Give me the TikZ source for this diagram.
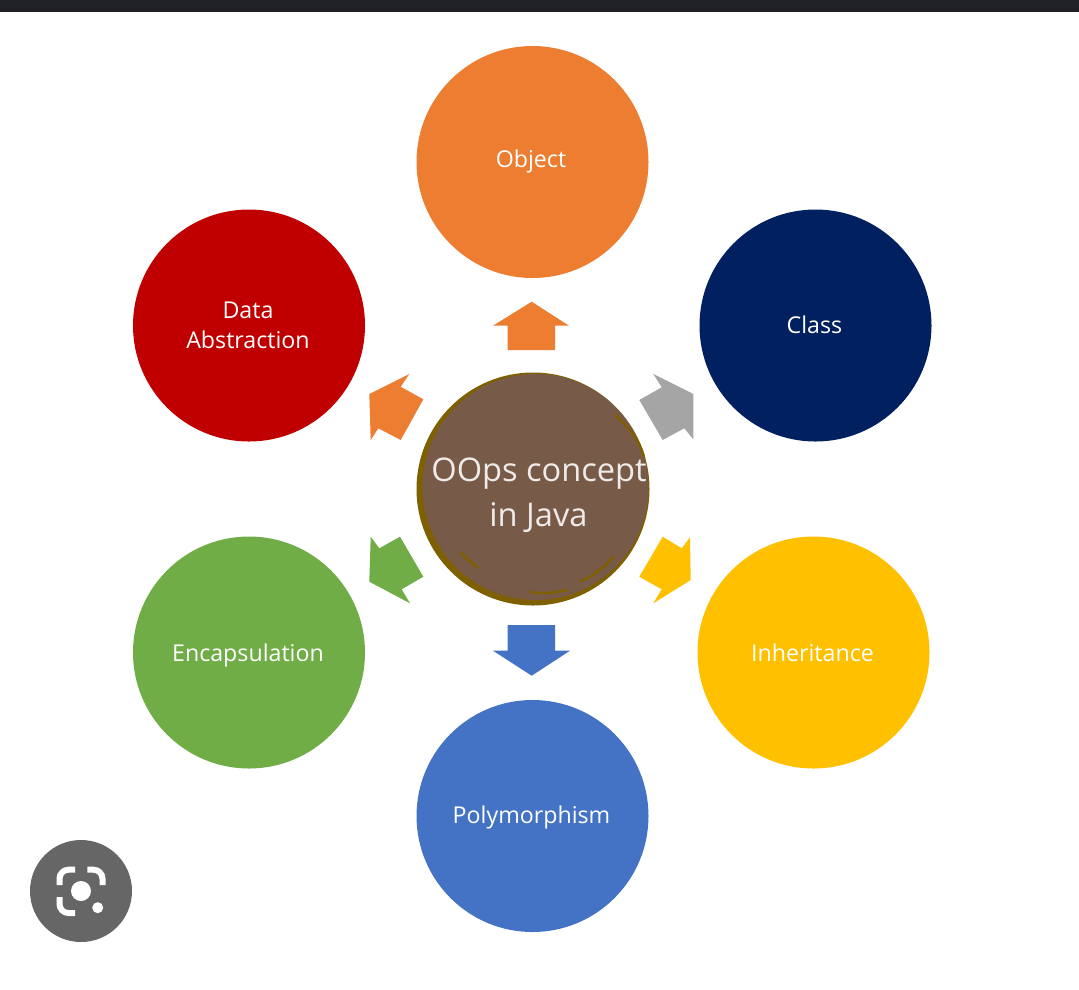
\documentclass[tikz,border=0pt]{standalone}
\usepackage{fontspec}
\setmainfont{Open Sans}
\definecolor{cobj}{HTML}{ED7D31}
\definecolor{ccls}{HTML}{002060}
\definecolor{cinh}{HTML}{FFC000}
\definecolor{cpol}{HTML}{4472C4}
\definecolor{cenc}{HTML}{70AD47}
\definecolor{cdat}{HTML}{C00000}
\definecolor{cgry}{HTML}{A5A5A5}
\definecolor{cbrn}{HTML}{785A48}
\definecolor{cgld}{HTML}{7F6000}
\definecolor{cbar}{HTML}{202124}
\definecolor{cicn}{HTML}{666666}
\tikzset{
  bubble/.style={circle,inner sep=0pt,minimum size=232pt,fill=#1},
  lbl/.style={anchor=base,text=white,font=\fontsize{23.2}{23.2}\selectfont,inner sep=0pt},
  biglbl/.style={anchor=base,text=white!88!cbrn,font=\fontsize{32.6}{32.6}\selectfont,inner sep=0pt},
  iconstroke/.style={draw=white,line width=6pt,line cap=butt,rounded corners=9pt},
  scribble/.style={draw=cgld,line width=2.5pt,line cap=round}
}
\begin{document}
\begin{tikzpicture}[x=1pt,y=-1pt]
\useasboundingbox (0,0) rectangle (1079,989);
\fill[white] (0,0) rectangle (1079,989);
\fill[cbar] (0,0) rectangle (1079,12);

% outer circles
\node[bubble=cobj] (object) at (532.5,162) {};
\node[bubble=ccls] (class) at (815.5,325.5) {};
\node[bubble=cinh] (inheritance) at (813.5,652.5) {};
\node[bubble=cpol] (poly) at (532.5,816) {};
\node[bubble=cenc] (encap) at (249,652.5) {};
\node[bubble=cdat] (data) at (249,325.5) {};

% labels
\node[lbl] (tobject) at (531,167.5) {Object};
\node[lbl] (tclass) at (814.5,333) {Class};
\node[lbl] (tdata1) at (248,318.5) {Data};
\node[lbl] (tdata2) at (248,348) {Abstraction};
\node[lbl] (tinh) at (812.5,661) {Inheritance};
\node[lbl] (tenc) at (248,661) {Encapsulation};
\node[lbl] (tpol) at (531.5,823.5) {Polymorphism};

% arrows
\fill[cobj] (531.7,301.7) -- (569,325.7) -- (555,325.7) -- (555,350) -- (507.7,350) -- (507.7,325.7) -- (493,325.7) -- cycle;
\fill[cpol] (531.7,675.7) -- (570,650.7) -- (555,650.7) -- (555,625) -- (507.7,625) -- (507.7,650.7) -- (493,650.7) -- cycle;
\fill[cgry] (653.3,374) -- (693.3,394) -- (693.3,439.3) -- (684.3,428.3) -- (662.7,440) -- (639.3,400) -- (661.7,387.3) -- cycle;
\fill[cobj] (409.3,374) -- (369.3,394) -- (370.7,440) -- (378.3,428.3) -- (400.7,440) -- (423.3,399.3) -- (400.7,386.7) -- cycle;
\fill[cenc] (370.7,536.7) -- (379.3,548.3) -- (400,536.7) -- (423.3,576.7) -- (401.7,589.3) -- (410,603.3) -- (369.3,581.7) -- cycle;
\fill[cinh] (662.7,536.7) -- (681.7,548.3) -- (690,537.3) -- (690.7,580) -- (653.3,603.3) -- (661.7,589.3) -- (639.3,576.7) -- cycle;

% centre circle: gold rim showing round a brown disc
\node[circle,inner sep=0pt,minimum size=233pt,fill=cgld] (rim) at (533,489) {};
\node[circle,inner sep=0pt,minimum size=226pt,fill=cbrn] (centre) at (535.5,487) {};
\draw[scribble] (615,415) .. controls (630,428) and (640,442) .. (644,457);
\draw[scribble] (580,581) .. controls (592,577) and (604,568) .. (613,557);
\draw[scribble] (530,592) .. controls (542,594) and (556,593) .. (567,590);
\draw[scribble] (461,553) .. controls (466,558) and (472,563) .. (477,567);
\node[biglbl] (tc1) at (539,481.5) {OOps concept};
\node[biglbl] (tc2) at (538.5,526) {in Java};

% lens icon
\node[circle,inner sep=0pt,minimum size=102pt,fill=cicn] (lens) at (81,891) {};
\node[circle,inner sep=0pt,minimum size=20pt,fill=white] (lensdot) at (81,891) {};
\node[circle,inner sep=0pt,minimum size=11pt,fill=white] (lensspot) at (97.7,907.7) {};
\draw[iconstroke] (59.5,885) -- (59.5,869.7) -- (75,869.7);
\draw[iconstroke] (87.3,869.7) -- (102.5,869.7) -- (102.5,885);
\draw[iconstroke] (59.5,897) -- (59.5,913) -- (75,913);
\end{tikzpicture}
\end{document}
